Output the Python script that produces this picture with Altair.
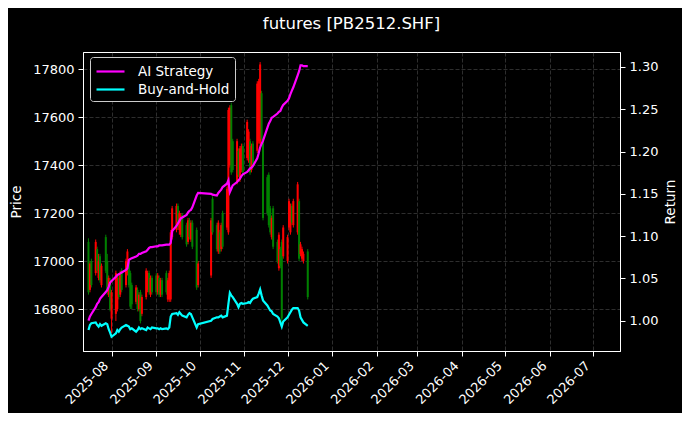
import altair as alt
import pandas as pd

# ---- trading days (Jul 16 – Dec 15, 2025) ----
jul_days = [16, 17, 18, 21, 22, 23, 24, 25, 28, 29, 30, 31]
aug_days = [1, 4, 5, 6, 7, 8, 11, 12, 13, 14, 15, 18, 19, 20, 21, 22, 25, 26, 27, 28, 29]
sep_days = [1, 2, 3, 4, 5, 8, 9, 10, 11, 12, 15, 16, 17, 18, 19, 22, 23, 24, 25, 26, 29, 30]
oct_days = [9, 10, 13, 14, 15, 16, 17, 20, 21, 22, 23, 24, 27, 28, 29, 30, 31]
nov_days = [3, 4, 5, 6, 7, 10, 11, 12, 13, 14, 17, 18, 19, 20, 21, 24, 25, 26, 27, 28]
dec_days = [1, 2, 3, 4, 5, 8, 9, 10, 11, 12, 15]

open_ = [17080, 16880, 17000, 16950, 17050, 16930, 17020, 16900, 17100, 17000, 16860, 16920,
         16760, 16780, 16800, 16930, 16860, 16960, 16900, 16950, 17000, 16950, 16900, 16830, 16880, 16800, 16870, 16780, 16850, 16880, 16950, 16860, 16930,
         16940, 16870, 16930, 16860, 16920, 16950, 16840, 16840, 16840, 17100, 17130, 17230, 17130, 17110, 17190, 17150, 17080, 17170, 17090, 17160, 17130, 16900,
         16940, 17260, 17150, 17040, 17120, 17050, 17200, 17140, 17120, 17400, 17650, 17500, 17330, 17460, 17340, 17380, 17480,
         17430, 17420, 17500, 17380, 17490, 17460, 17500, 17490, 17700, 17500, 17350, 17360, 17220, 17100, 17220, 17080, 16970, 17050, 17080, 17020,
         17000, 17140, 17120, 17230, 17150, 17120, 17250, 17030, 17010, 17000, 17040]
high = [17095, 17000, 17010, 17090, 17060, 17030, 17030, 16990, 17110, 17030, 16940, 16930,
        16880, 16960, 16940, 16940, 16960, 16970, 17010, 17050, 17010, 16960, 16910, 16900, 16890, 16870, 16880, 16860, 16970, 16960, 16960, 16940, 16940,
        16950, 16950, 16940, 16930, 16930, 16960, 16930, 16960, 17130, 17230, 17240, 17240, 17210, 17200, 17200, 17160, 17180, 17180, 17170, 17170, 17140, 17000,
        17180, 17270, 17160, 17170, 17130, 17160, 17210, 17310, 17640, 17650, 17660, 17510, 17510, 17470, 17480, 17490, 17490,
        17590, 17550, 17510, 17490, 17500, 17750, 17760, 17830, 17710, 17510, 17360, 17370, 17230, 17190, 17230, 17090, 17120, 17060, 17090, 17150,
        17110, 17260, 17240, 17240, 17260, 17330, 17260, 17080, 17060, 17040, 17050]
low = [16860, 16870, 16890, 16940, 16950, 16920, 16910, 16890, 16950, 16860, 16850, 16790,
       16700, 16750, 16790, 16840, 16850, 16870, 16890, 16940, 16890, 16800, 16800, 16820, 16790, 16790, 16740, 16770, 16840, 16870, 16860, 16850, 16860,
       16860, 16860, 16850, 16850, 16850, 16860, 16830, 16830, 16830, 17090, 17120, 17130, 17110, 17100, 17090, 17060, 17070, 17090, 17080, 17050, 16880, 16890,
       16930, 17110, 17040, 17030, 17030, 17040, 17050, 17130, 17110, 17390, 17360, 17370, 17320, 17350, 17330, 17370, 17360,
       17420, 17410, 17360, 17370, 17390, 17450, 17490, 17480, 17500, 17170, 17190, 17140, 17110, 17090, 17050, 16990, 16960, 16970, 16740, 17010,
       16990, 17130, 17110, 17150, 17140, 17110, 17000, 17020, 17000, 16990, 16840]
close = [16870, 16990, 16900, 17080, 16960, 17000, 16920, 16980, 16960, 16870, 16930, 16800,
         16870, 16950, 16930, 16850, 16950, 16880, 17000, 17040, 16900, 16810, 16820, 16890, 16800, 16860, 16750, 16850, 16960, 16950, 16870, 16930, 16870,
         16870, 16940, 16860, 16920, 16860, 16870, 16920, 16950, 17120, 17220, 17230, 17140, 17200, 17190, 17100, 17070, 17170, 17100, 17160, 17060, 16890, 16990,
         17170, 17120, 17050, 17160, 17040, 17150, 17060, 17300, 17630, 17640, 17370, 17380, 17500, 17360, 17470, 17480, 17370,
         17580, 17540, 17370, 17480, 17400, 17740, 17750, 17820, 17510, 17180, 17200, 17150, 17120, 17180, 17060, 17000, 17110, 16980, 16760, 17140,
         17100, 17250, 17230, 17160, 17250, 17320, 17010, 17070, 17050, 17030, 16850]

ai_strategy = [1.000, 1.005, 1.008, 1.016, 1.020, 1.022, 1.026, 1.028, 1.034, 1.036, 1.040, 1.045,
               1.047, 1.052, 1.054, 1.055, 1.056, 1.057, 1.060, 1.062, 1.072, 1.073, 1.074, 1.076, 1.077, 1.079, 1.079, 1.080, 1.082, 1.084, 1.086, 1.087, 1.087,
               1.088, 1.088, 1.089, 1.089, 1.089, 1.090, 1.090, 1.090, 1.092, 1.106, 1.112, 1.115, 1.118, 1.121, 1.122, 1.125, 1.128, 1.130, 1.131, 1.134, 1.148, 1.151,
               1.150, 1.149, 1.148, 1.151, 1.153, 1.155, 1.158, 1.162, 1.166, 1.152, 1.156, 1.160, 1.164, 1.166, 1.168, 1.171, 1.173,
               1.176, 1.178, 1.180, 1.181, 1.183, 1.192, 1.198, 1.205, 1.209, 1.213, 1.228, 1.233, 1.236, 1.240, 1.241, 1.245, 1.247, 1.248, 1.252, 1.255,
               1.260, 1.263, 1.268, 1.272, 1.276, 1.290, 1.295, 1.302, 1.302, 1.301, 1.301]
buy_hold = [0.989, 0.995, 0.997, 0.998, 0.995, 0.993, 0.996, 0.994, 0.997, 0.996, 0.990, 0.986,
            0.981, 0.985, 0.989, 0.987, 0.990, 0.992, 0.995, 0.994, 0.993, 0.990, 0.991, 0.987, 0.989, 0.992, 0.990, 0.991, 0.989, 0.992, 0.991, 0.990, 0.992,
            0.991, 0.991, 0.990, 0.991, 0.990, 0.991, 0.990, 0.992, 1.005, 1.008, 1.009, 1.007, 1.010, 1.008, 1.006, 1.004, 1.007, 1.009, 1.008, 1.004, 0.992, 0.996,
            1.000, 1.002, 1.004, 1.004, 1.005, 1.006, 1.004, 1.006, 1.020, 1.033, 1.030, 1.028, 1.020, 1.016, 1.020, 1.021, 1.020,
            1.021, 1.022, 1.021, 1.024, 1.026, 1.028, 1.032, 1.037, 1.030, 1.024, 1.018, 1.015, 1.012, 1.011, 1.008, 1.005, 1.003, 0.998, 0.993, 0.999,
            1.004, 1.007, 1.010, 1.013, 1.015, 1.015, 1.012, 1.004, 1.001, 0.998, 0.994]

series_names = ["AI Strategy", "Buy-and-Hold"]
series_colors = ["#ff00ff", "#00ffff"]
month_ticks = ["2025-08", "2025-09", "2025-10", "2025-11", "2025-12", "2026-01",
               "2026-02", "2026-03", "2026-04", "2026-05", "2026-06", "2026-07"]
price_ticks = [16800, 17000, 17200, 17400, 17600, 17800]
return_ticks = [1.00, 1.05, 1.10, 1.15, 1.20, 1.25, 1.30]

dates = ([f"2025-07-{d:02d}" for d in jul_days] + [f"2025-08-{d:02d}" for d in aug_days] +
         [f"2025-09-{d:02d}" for d in sep_days] + [f"2025-10-{d:02d}" for d in oct_days] +
         [f"2025-11-{d:02d}" for d in nov_days] + [f"2025-12-{d:02d}" for d in dec_days])

candles = pd.DataFrame({"date": dates, "open": open_, "high": high, "low": low, "close": close})
lines_df = pd.concat([
    pd.DataFrame({"date": dates, "series": series_names[0], "value": ai_strategy}),
    pd.DataFrame({"date": dates, "series": series_names[1], "value": buy_hold}),
])

FONT = "DejaVu Sans"
tick_dt = [alt.DateTime(year=int(m[:4]), month=int(m[5:]), date=1, utc=True) for m in month_ticks]
x_scale = alt.Scale(type="utc", domain=[alt.DateTime(year=2025, month=7, date=15, hours=16, utc=True),
                                        alt.DateTime(year=2026, month=7, date=16, utc=True)])
x_axis = alt.Axis(values=tick_dt, format="%Y-%m", labelAngle=315, labelAlign="right",
                  labelBaseline="top", labelOffset=-10, labelPadding=3, labelOverlap=False,
                  labelFontSize=13, title=None)
x_enc = alt.X("date:T", scale=x_scale, axis=x_axis)

price_scale = alt.Scale(domain=[16625, 17872], nice=False, zero=False)
ret_scale = alt.Scale(domain=[0.9642, 1.3177], nice=False, zero=False)

up_down = alt.condition("datum.close >= datum.open", alt.value("#ff0000"), alt.value("#008000"))

wick = alt.Chart(candles).mark_rule(strokeWidth=1).encode(
    x=x_enc,
    y=alt.Y("low:Q", scale=price_scale,
            axis=alt.Axis(values=price_ticks, orient="left", title="Price", format="d", titlePadding=9)),
    y2="high:Q",
    color=up_down,
)
body = alt.Chart(candles).mark_bar(size=2).encode(
    x=x_enc,
    y=alt.Y("open:Q", scale=price_scale),
    y2="close:Q",
    color=up_down,
)

lines = alt.Chart(lines_df).mark_line(strokeWidth=2.2).encode(
    x=x_enc,
    y=alt.Y("value:Q", scale=ret_scale,
            axis=alt.Axis(values=return_ticks, orient="right", title="Return", format=".2f",
                          titlePadding=6, titleAngle=270, titleBaseline="top")),
    color=alt.Color("series:N", scale=alt.Scale(domain=series_names, range=series_colors),
                    legend=alt.Legend(title=None, orient="none", legendX=7, legendY=5,
                                      fillColor="black", strokeColor="#cccccc", cornerRadius=3,
                                      padding=5, labelFontSize=13.5, labelColor="white", labelFont=FONT,
                                      symbolType="M-1,0H2.5", symbolSize=256, symbolStrokeWidth=2.2,
                                      labelOffset=24, rowPadding=2)),
    detail="series:N",
)

chart = alt.layer(alt.layer(wick, body), lines).resolve_scale(y="independent").properties(
    width=537,
    height=299,
    autosize=alt.AutoSizeParams(type="none"),
    padding={"left": 75, "top": 44, "right": 62, "bottom": 62},
    background="black",
    title=alt.TitleParams("futures [PB2512.SHF]", fontSize=16.5, font=FONT, fontWeight="normal",
                          color="white", anchor="middle", frame="group", offset=7,
                          baseline="alphabetic"),
).configure_view(stroke="white", strokeWidth=1).configure_axis(
    labelColor="white", labelFont=FONT, labelFontSize=13, titleColor="white", titleFont=FONT,
    titleFontSize=13.5, titleFontWeight="normal", tickColor="white", tickSize=5, domainColor="white",
    grid=True, gridColor="#808080", gridOpacity=0.45, gridDash=[4, 2], gridWidth=0.8, labelPadding=4,
)

chart.save("out.html", embed_options={"renderer": "svg", "actions": False})
